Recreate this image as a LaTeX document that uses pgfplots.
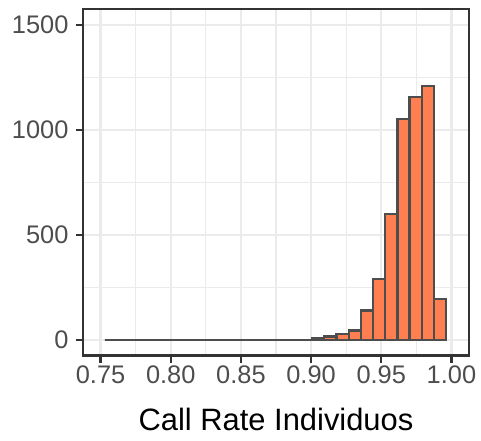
\documentclass[border=0pt]{standalone}
\usepackage{fontspec}
\setmainfont{Liberation Sans}
\usepackage{pgfplots}
\pgfplotsset{compat=1.18}

\definecolor{barfill}{HTML}{FF7F50}
\definecolor{baredge}{HTML}{4D4D4D}
\definecolor{gridc}{HTML}{EBEBEB}
\definecolor{framec}{HTML}{333333}
\definecolor{tickc}{HTML}{4D4D4D}

% histogram: left bin edges and counts (last row closes the final bin)
\pgfplotstableread{
edge    count
0.75306 0
0.76175 0
0.77043 0
0.77912 0
0.78780 0
0.79649 0
0.80517 0
0.81386 0
0.82254 0
0.83123 0
0.83991 0
0.84860 0
0.85728 0
0.86597 0
0.87465 0
0.88334 0
0.89202 0
0.90071 6
0.90939 15
0.91808 27
0.92676 44
0.93545 140
0.94413 288
0.95282 600
0.96150 1050
0.97019 1157
0.97887 1207
0.98756 195
0.99624 195
}\histdata

\begin{document}
\begin{tikzpicture}
\begin{axis}[
  scale only axis,
  width=386bp, height=346.5bp,
  xmin=0.7375, xmax=1.0125,
  ymin=-75, ymax=1575,
  xtick={0.75,0.80,0.85,0.90,0.95,1.00},
  xticklabels={0.75,0.80,0.85,0.90,0.95,1.00},
  minor xtick={0.775,0.825,0.875,0.925,0.975},
  ytick={0,500,1000,1500},
  yticklabels={0,500,1000,1500},
  minor ytick={250,750,1250},
  grid=both,
  major grid style={gridc, line width=2.2bp},
  minor grid style={gridc, line width=1.1bp},
  axis line style={framec, line width=2.4bp},
  tick align=outside,
  major tick length=7bp,
  minor tick length=0bp,
  tick style={framec, line width=2.4bp},
  xtick pos=bottom, ytick pos=left,
  tick label style={font=\fontsize{25.5}{25.5}\selectfont, text=tickc},
  yticklabel style={xshift=-4bp},
  xlabel={Call Rate Individuos},
  xlabel style={font=\fontsize{31}{31}\selectfont, text=black,
    at={(rel axis cs:0.5,0)}, anchor=base, yshift=-74.5bp},
]
\addplot[ybar interval, fill=barfill, draw=baredge, line width=2.3bp]
  table[x=edge, y=count] {\histdata};
\coordinate (sw) at (rel axis cs:0,0);
\end{axis}
\pgfresetboundingbox
\path (sw) ++(-83bp,-85.5bp) rectangle ++(481bp,441bp);
\end{tikzpicture}
\end{document}
